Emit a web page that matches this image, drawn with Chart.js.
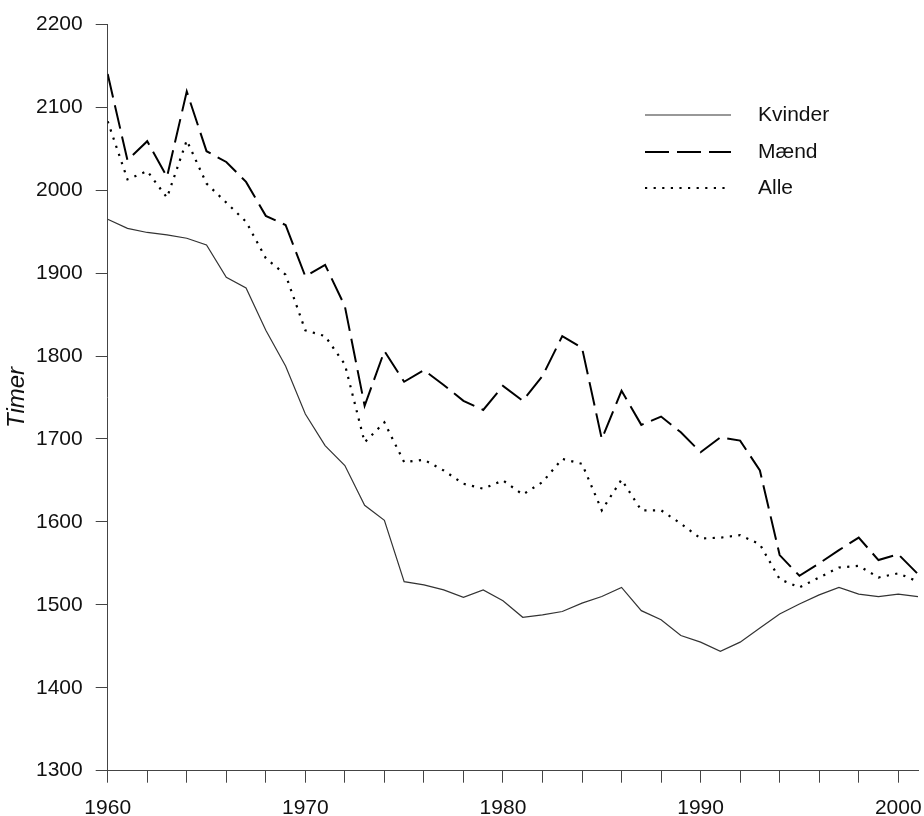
<!DOCTYPE html>
<html>
<head>
<meta charset="utf-8">
<script src="https://cdn.jsdelivr.net/npm/chart.js@4.4.1/dist/chart.umd.min.js"></script>
<style>
  html, body { margin: 0; padding: 0; background: #fff; }
  #wrap { width: 924px; height: 816px; }
</style>
</head>
<body>
<div id="wrap"><canvas id="chartCanvas" width="924" height="816"></canvas></div>
<script>
const years = [1960, 1961, 1962, 1963, 1964, 1965, 1966, 1967, 1968, 1969,
  1970, 1971, 1972, 1973, 1974, 1975, 1976, 1977, 1978, 1979,
  1980, 1981, 1982, 1983, 1984, 1985, 1986, 1987, 1988, 1989,
  1990, 1991, 1992, 1993, 1994, 1995, 1996, 1997, 1998, 1999,
  2000, 2001];
const kvinder = [1965, 1954, 1949, 1946, 1942, 1934, 1895, 1882, 1831, 1788,
  1730, 1692, 1668, 1620, 1602, 1528, 1524, 1518, 1509, 1518,
  1505, 1485, 1488, 1492, 1502, 1510, 1521, 1493, 1482, 1463,
  1455, 1444, 1455, 1472, 1489, 1501, 1512, 1521, 1513, 1510,
  1513, 1510];
const maend = [2140, 2036, 2059, 2016, 2119, 2047, 2034, 2010, 1969, 1958,
  1896, 1910, 1860, 1740, 1806, 1769, 1783, 1765, 1746, 1735,
  1764, 1746, 1776, 1824, 1810, 1700, 1758, 1717, 1727, 1708,
  1684, 1702, 1698, 1662, 1560, 1535, 1550, 1566, 1581, 1554,
  1561, 1537];
const alle = [2083, 2013, 2023, 1991, 2060, 2008, 1985, 1962, 1918, 1898,
  1831, 1824, 1790, 1696, 1720, 1672, 1675, 1662, 1646, 1640,
  1650, 1633, 1648, 1676, 1670, 1614, 1651, 1614, 1614, 1598,
  1580, 1581, 1584, 1573, 1531, 1521, 1533, 1545, 1547, 1533,
  1538, 1528];
const seriesNames = ["Kvinder", "Mænd", "Alle"];

const FONT = "'Liberation Sans', Arial, sans-serif";
const axisColor = "#444";

function toPoints(values) {
  return years.map((y, i) => ({ x: y, y: values[i] }));
}

// simple legend drawn inside the plot, top right
const lineLegend = {
  id: "lineLegend",
  afterDraw(chart) {
    const ctx = chart.ctx;
    const x0 = 645, x1 = 731, tx = 758;
    const rows = [115, 152, 188];
    ctx.save();
    chart.data.datasets.forEach((ds, i) => {
      ctx.beginPath();
      ctx.setLineDash(ds.borderDash || []);
      ctx.lineWidth = ds.borderWidth;
      ctx.strokeStyle = ds.borderColor;
      ctx.moveTo(x0, rows[i]);
      ctx.lineTo(x1, rows[i]);
      ctx.stroke();
      ctx.setLineDash([]);
      ctx.fillStyle = "#111";
      ctx.font = "21px " + FONT;
      ctx.textBaseline = "middle";
      ctx.fillText(ds.label, tx, rows[i]);
    });
    ctx.restore();
  },
};

const ctx = document.getElementById("chartCanvas").getContext("2d");
new Chart(ctx, {
  type: "line",
  data: {
    datasets: [
      {
        label: seriesNames[0],
        data: toPoints(kvinder),
        borderColor: "#333",
        borderWidth: 1.2,
      },
      {
        label: seriesNames[1],
        data: toPoints(maend),
        borderColor: "#000",
        borderWidth: 2,
        borderDash: [24, 8],
      },
      {
        label: seriesNames[2],
        data: toPoints(alle),
        borderColor: "#000",
        borderWidth: 2.2,
        borderDash: [2.2, 6.4],
      },
    ],
  },
  options: {
    responsive: false,
    animation: false,
    layout: { padding: { top: 24.3, right: 6, left: 0, bottom: 0 } },
    elements: { point: { radius: 0 }, line: { tension: 0 } },
    plugins: { legend: { display: false }, tooltip: { enabled: false } },
    scales: {
      x: {
        type: "linear",
        min: 1960,
        max: 2001,
        afterBuildTicks: (scale) => {
          scale.ticks = scale.ticks.filter(
            (t) => Math.round(t.value) % 2 === 0 && t.value <= 2000
          );
        },
        afterFit: (scale) => {
          scale.height = 45.3;
          scale.paddingLeft = 0;
          scale.paddingRight = 0;
        },
        border: { display: true, color: axisColor, width: 1 },
        grid: {
          drawOnChartArea: false,
          drawTicks: true,
          tickLength: 12,
          color: axisColor,
        },
        ticks: {
          stepSize: 2,
          includeBounds: false,
          autoSkip: false,
          maxRotation: 0,
          padding: 13,
          color: "#111",
          font: { family: FONT, size: 21 },
          callback: (v) => (Math.round(v) % 10 === 0 ? String(Math.round(v)) : ""),
        },
      },
      y: {
        min: 1300,
        max: 2200,
        afterFit: (scale) => {
          scale.width = 107.7;
          scale.paddingTop = 0;
          scale.paddingBottom = 0;
        },
        border: { display: true, color: axisColor, width: 1 },
        grid: {
          drawOnChartArea: false,
          drawTicks: true,
          tickLength: 12,
          color: axisColor,
        },
        ticks: {
          stepSize: 100,
          padding: 13,
          color: "#111",
          font: { family: FONT, size: 21 },
          callback: (v) => String(v),
        },
        title: {
          display: true,
          text: "Timer",
          color: "#111",
          padding: { top: 3, bottom: 0 },
          font: { family: FONT, size: 24, style: "italic" },
        },
      },
    },
  },
  plugins: [lineLegend],
});
</script>
</body>
</html>
